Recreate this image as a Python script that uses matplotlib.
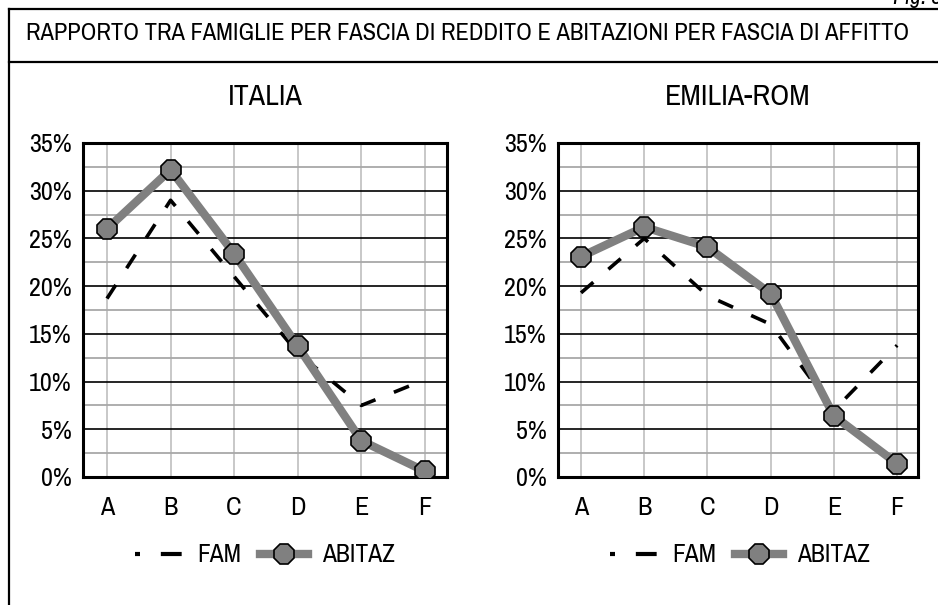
import os
import matplotlib
matplotlib.use('Agg')
import matplotlib.pyplot as plt
import matplotlib.font_manager as fm
from matplotlib.lines import Line2D

# ---------------- data ----------------
categories = ['A', 'B', 'C', 'D', 'E', 'F']
italia_fam = [18.7, 29.0, 21.0, 13.0, 7.5, 10.2]
italia_abitaz = [26.0, 32.2, 23.4, 13.7, 3.8, 0.6]
emilia_fam = [19.3, 25.0, 19.0, 16.0, 7.0, 13.8]
emilia_abitaz = [23.1, 26.2, 24.1, 19.2, 6.4, 1.4]
ytick_values = [0, 5, 10, 15, 20, 25, 30, 35]
ytick_labels = ['0%', '5%', '10%', '15%', '20%', '25%', '30%', '35%']
minor_values = [2.5, 7.5, 12.5, 17.5, 22.5, 27.5, 32.5]
series_names = ['FAM', 'ABITAZ']
panel_titles = ['ITALIA', 'EMILIA-ROM']
main_title = 'RAPPORTO TRA FAMIGLIE PER FASCIA DI REDDITO E ABITAZIONI PER FASCIA DI AFFITTO'
fig_label = 'Fig. 3'

# ---------------- font: prefer a narrow sans ----------------
chosen = None
for f in fm.fontManager.ttflist:
    fn = os.path.basename(f.fname).lower()
    if 'narrow' in fn and 'bold' not in fn and 'italic' not in fn:
        chosen = f
        break
if chosen is None:
    for f in fm.fontManager.ttflist:
        fn = os.path.basename(f.fname).lower()
        if ('condensed' in fn and 'sans' in fn and 'mono' not in fn and 'bold' not in fn
                and 'oblique' not in fn and 'italic' not in fn and 'light' not in fn
                and 'semi' not in fn and 'extra' not in fn):
            chosen = f
            break
if chosen is not None:
    plt.rcParams['font.family'] = [chosen.name, 'Liberation Sans', 'DejaVu Sans']
    plt.rcParams['font.stretch'] = chosen.stretch
else:
    plt.rcParams['font.family'] = ['Liberation Sans', 'DejaVu Sans']

W, H = 938, 605
fig = plt.figure(figsize=(W / 100, H / 100), dpi=100)
fig.patch.set_facecolor('white')
renderer = fig.canvas.get_renderer()


def fit_size(txt, base, target_px):
    txt.set_fontsize(base)
    w = txt.get_window_extent(renderer).width
    return base * target_px / w


# main title sized so it spans ~880 px as in the reference
title_txt = fig.text(468 / W, 1 - 33 / H, main_title, ha='center', va='center', fontsize=16)
title_txt.set_fontsize(fit_size(title_txt, 16, 880))

# probe to calibrate other text sizes ("35%" is ~43 px wide in the reference)
probe = fig.text(0, 0, '35%', fontsize=19)
tick_fs = fit_size(probe, 19, 43)
probe.remove()
k = tick_fs / 19.0


def px_rect(x0, y0, x1, y1):
    return [x0 / W, 1 - y1 / H, (x1 - x0) / W, (y1 - y0) / H]


# outer frame + title separator
frame_kw = dict(color='black', lw=1.6, transform=fig.transFigure)
fig.add_artist(Line2D([9 / W, 1.0], [1 - 9 / H, 1 - 9 / H], **frame_kw))
fig.add_artist(Line2D([9 / W, 9 / W], [1 - 9 / H, 0.0], **frame_kw))
fig.add_artist(Line2D([9 / W, 1.0], [1 - 62 / H, 1 - 62 / H], **frame_kw))

fig.text(893 / W, 1 - 4 / H, fig_label, ha='left', va='baseline', fontsize=17 * k, style='italic')

panels = [
    (px_rect(83, 143, 447, 477), (-0.377, 5.346), italia_fam, italia_abitaz, panel_titles[0], 265),
    (px_rect(558, 143, 918, 477), (-0.364, 5.33), emilia_fam, emilia_abitaz, panel_titles[1], 740),
]

for rect, xlim, fam, abitaz, ttl, legx in panels:
    ax = fig.add_axes(rect)
    x = list(range(len(categories)))
    # grid
    for v in minor_values:
        ax.axhline(v, color='#a8a8a8', lw=1.3, zorder=1)
    for v in ytick_values[1:-1]:
        ax.axhline(v, color='black', lw=1.2, zorder=1.5)
    for xi in x:
        ax.axvline(xi, color='#c4c4c4', lw=1.3, zorder=0.8)

    ax.plot(x, fam, color='black', lw=2.6, linestyle=(0, (4.5, 5.5)),
            dash_capstyle='butt', zorder=3, label=series_names[0])
    ax.plot(x, abitaz, color='#808080', lw=6, marker='8', markersize=16,
            markerfacecolor='#808080', markeredgecolor='black', markeredgewidth=1.2,
            zorder=4, label=series_names[1])

    ax.set_xlim(*xlim)
    ax.set_ylim(0, 35)
    ax.set_xticks(x)
    ax.set_xticklabels(categories)
    ax.set_yticks(ytick_values)
    ax.set_yticklabels(ytick_labels)
    ax.tick_params(axis='both', length=0, labelsize=tick_fs)
    ax.tick_params(axis='x', pad=14)
    ax.tick_params(axis='y', pad=8)
    for s in ax.spines.values():
        s.set_color('black')
        s.set_linewidth(2.2)
    ax.set_facecolor('white')

    ax.text(0.5, 1 + (143 - 97) / 334, ttl, transform=ax.transAxes,
            ha='center', va='center', fontsize=21.7 * k)

    h_fam = Line2D([], [], color='black', lw=3, linestyle=(0, (1.2, 5, 5, 20)))
    h_ab = Line2D([], [], color='#808080', lw=6, marker='8', markersize=16,
                  markerfacecolor='#808080', markeredgecolor='black', markeredgewidth=1.2)
    bx = (legx - rect[0] * W) / (rect[2] * W)
    ax.legend([h_fam, h_ab], series_names, loc='center', ncol=2, frameon=False,
              bbox_to_anchor=(bx, (477 - 555) / 334), fontsize=18.5 * k,
              handlelength=1.9, handletextpad=0.55, columnspacing=0.7)

fig.savefig('out.png', dpi=100, facecolor='white')
